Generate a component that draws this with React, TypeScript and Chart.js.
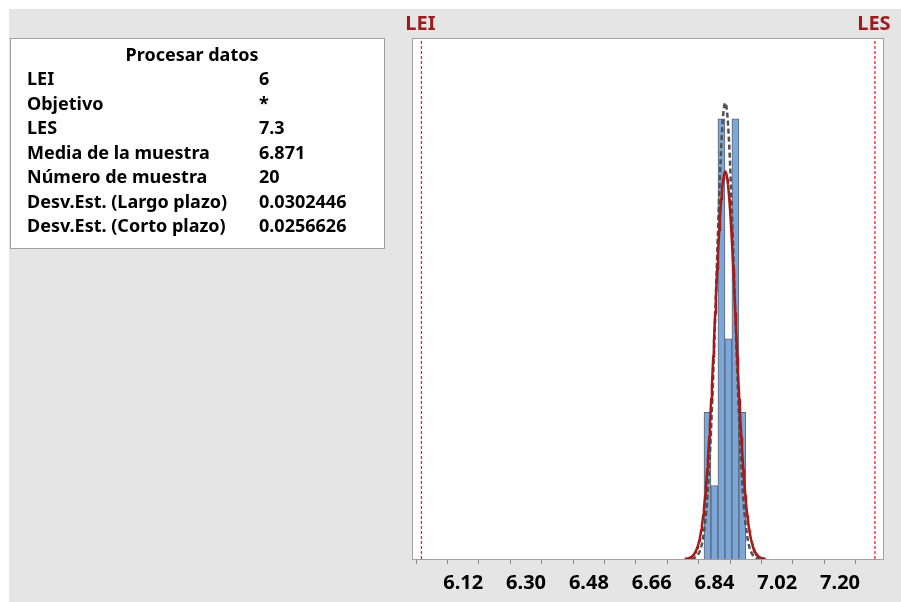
import React, { useEffect, useRef } from "react";
import { Chart, registerables } from "chart.js";

Chart.register(...registerables);

// ---- data ----
const BIN_CENTERS = [6.82, 6.84, 6.86, 6.88, 6.9, 6.92];
const BIN_COUNTS = [2, 1, 6, 3, 6, 2];
const BIN_WIDTH = 0.02;
const LSL = 6;
const USL = 7.3;
const SAMPLE_MEAN = 6.871;
const SAMPLE_N = 20;
const SD_OVERALL = 0.0302446;
const SD_WITHIN = 0.0256626;
const TICK_VALUES = [6.03, 6.12, 6.21, 6.3, 6.39, 6.48, 6.57, 6.66, 6.75, 6.84, 6.93, 7.02, 7.11, 7.2, 7.29];
const MAJOR_TICKS = [6.12, 6.3, 6.48, 6.66, 6.84, 7.02, 7.2];
const MAJOR_LABELS = ["6.12", "6.30", "6.48", "6.66", "6.84", "7.02", "7.20"];
const TABLE_TITLE = "Procesar datos";
const TABLE_LABELS = [
  "LEI",
  "Objetivo",
  "LES",
  "Media de la muestra",
  "Número de muestra",
  "Desv.Est. (Largo plazo)",
  "Desv.Est. (Corto plazo)",
];
const TABLE_VALUES = ["6", "*", "7.3", "6.871", "20", "0.0302446", "0.0256626"];

const X_MIN = 5.973;
const X_MAX = 7.326;
const Y_MAX = 7.1;

const FONT = '"Noto Sans", "Open Sans", sans-serif';

function normalCurve(mean: number, sd: number) {
  const pts: { x: number; y: number }[] = [];
  const steps = 120;
  const lo = mean - 3.8 * sd;
  const hi = mean + 3.8 * sd;
  for (let i = 0; i <= steps; i++) {
    const x = lo + ((hi - lo) * i) / steps;
    const z = (x - mean) / sd;
    const pdf = Math.exp(-0.5 * z * z) / (sd * Math.sqrt(2 * Math.PI));
    pts.push({ x, y: pdf * SAMPLE_N * BIN_WIDTH });
  }
  return pts;
}

const decorPlugin = {
  id: "decor",
  beforeDraw(chart: any) {
    const { ctx, chartArea } = chart;
    ctx.save();
    ctx.fillStyle = "#ffffff";
    ctx.fillRect(0, 0, chart.width, chart.height);
    ctx.fillStyle = "#e5e5e5";
    ctx.fillRect(9, 9, chart.width - 9, chart.height - 9);
    ctx.fillStyle = "#ffffff";
    ctx.fillRect(chartArea.left, chartArea.top, chartArea.right - chartArea.left, chartArea.bottom - chartArea.top);
    ctx.restore();
  },
  afterDatasetsDraw(chart: any) {
    const { ctx, chartArea } = chart;
    ctx.save();
    ctx.strokeStyle = "#a0a0a0";
    ctx.lineWidth = 1;
    ctx.strokeRect(chartArea.left + 0.5, chartArea.top + 0.5, chartArea.right - chartArea.left - 1, chartArea.bottom - chartArea.top);
    ctx.restore();
  },
  afterDraw(chart: any) {
    const { ctx } = chart;
    const xs = chart.scales.x;
    ctx.save();
    // spec limit labels
    ctx.fillStyle = "#9e1b1b";
    ctx.font = `bold 20px ${FONT}`;
    ctx.textAlign = "center";
    ctx.textBaseline = "alphabetic";
    ctx.fillText("LEI", xs.getPixelForValue(LSL) - 1, 30);
    ctx.fillText("LES", xs.getPixelForValue(USL) - 1, 30);

    // table
    ctx.fillStyle = "#ffffff";
    ctx.fillRect(10, 38, 374, 210);
    ctx.strokeStyle = "#a0a0a0";
    ctx.lineWidth = 1;
    ctx.strokeRect(10.5, 38.5, 374, 210);
    ctx.fillStyle = "#000000";
    ctx.font = `bold 18px ${FONT}`;
    ctx.textAlign = "center";
    ctx.fillText(TABLE_TITLE, 192, 60.5);
    ctx.textAlign = "left";
    TABLE_LABELS.forEach((lab, i) => {
      const y = 85 + 24.5 * i;
      ctx.fillText(lab, 27, y);
      ctx.fillText(TABLE_VALUES[i], 259, y);
    });
    ctx.restore();
  },
};

export default function App() {
  const ref = useRef<HTMLCanvasElement | null>(null);
  useEffect(() => {
    const canvas = ref.current;
    if (!canvas) return;
    const specLine = (v: number) => ({
      type: "line",
      data: [
        { x: v, y: 0 },
        { x: v, y: Y_MAX },
      ],
      borderColor: "#e8262b",
      borderWidth: 1.3,
      borderDash: [3, 2],
      pointRadius: 0,
      order: 3,
    });
    const chart = new Chart(canvas, {
      type: "bar",
      data: {
        datasets: [
          {
            type: "bar",
            data: BIN_CENTERS.map((x, i) => ({ x, y: BIN_COUNTS[i] })),
            backgroundColor: "#7ba7db",
            borderColor: "#5f6670",
            borderWidth: 1,
            barPercentage: 1,
            categoryPercentage: 1,
            order: 4,
          } as any,
          specLine(LSL) as any,
          specLine(USL) as any,
          {
            type: "line",
            data: normalCurve(SAMPLE_MEAN, SD_WITHIN),
            borderColor: "#505050",
            borderWidth: 2.5,
            borderDash: [5, 3],
            pointRadius: 0,
            tension: 0,
            order: 2,
          },
          {
            type: "line",
            data: normalCurve(SAMPLE_MEAN, SD_OVERALL),
            borderColor: "#a31b1b",
            borderWidth: 2.5,
            pointRadius: 0,
            tension: 0,
            order: 1,
          },
        ],
      },
      options: {
        animation: false,
        responsive: false,
        devicePixelRatio: 1,
        layout: { padding: { left: 412, right: 17, top: 38, bottom: 0 } },
        plugins: { legend: { display: false }, tooltip: { enabled: false } },
        scales: {
          x: {
            type: "linear",
            min: X_MIN,
            max: X_MAX,
            offset: false,
            afterBuildTicks: (s: any) => {
              s.ticks = TICK_VALUES.map((v) => ({ value: v }));
            },
            afterFit: (s: any) => {
              s.height = 43;
            },
            ticks: {
              autoSkip: false,
              maxRotation: 0,
              padding: 7,
              color: "#000000",
              font: { family: FONT, size: 20, weight: "bold" },
              callback: (v: any) => {
                const idx = MAJOR_TICKS.findIndex((m) => Math.abs(m - Number(v)) < 1e-6);
                return idx >= 0 ? MAJOR_LABELS[idx] : "";
              },
            },
            grid: { drawOnChartArea: false, drawTicks: true, tickLength: 5, color: "#8a8a8a" },
            border: { display: false },
          },
          y: { display: false, min: 0, max: Y_MAX },
        },
      } as any,
      plugins: [decorPlugin],
    });
    return () => chart.destroy();
  }, []);
  return (
    <div style={{ position: "fixed", left: 0, top: 0, width: 901, height: 602 }}>
      <canvas ref={ref} width={901} height={602} style={{ display: "block", width: 901, height: 602 }} />
    </div>
  );
}
